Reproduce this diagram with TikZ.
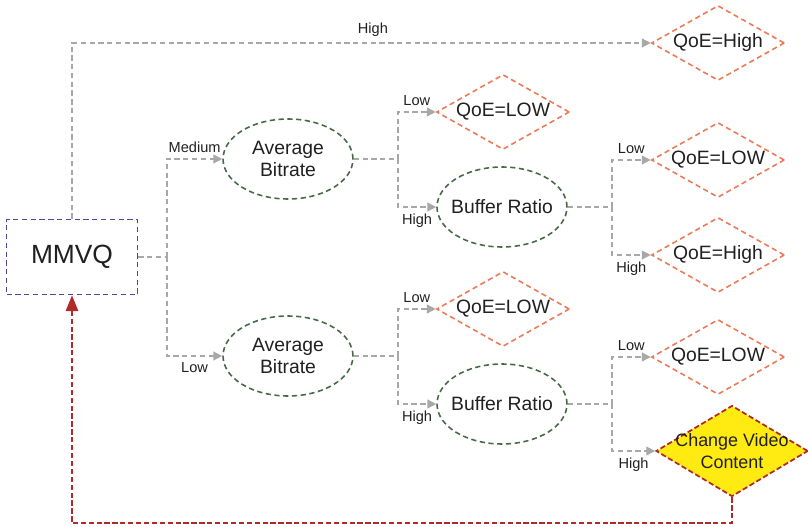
\documentclass[tikz,border=0pt]{standalone}
\usepackage{fontspec}
\setmainfont{Liberation Sans}
\usetikzlibrary{shapes.geometric,arrows.meta}
\definecolor{linegrey}{HTML}{A8A8A8}
\definecolor{ovalgreen}{HTML}{466A46}
\definecolor{qoeorange}{HTML}{EC7A57}
\definecolor{boxpurple}{HTML}{55449A}
\definecolor{backred}{HTML}{B02A2A}
\definecolor{warnyellow}{HTML}{FFEA12}
\definecolor{textgrey}{HTML}{202020}
\begin{document}
\begin{tikzpicture}[x=0.02cm, y=-0.02cm, text=textgrey,
    flow/.style={draw=linegrey, line width=0.75pt, dash pattern=on 3pt off 2pt},
    flowarrow/.style={flow, -{Triangle[length=5pt,width=5pt]}, arrows={[fill=linegrey]}},
    lbl/.style={font=\fontsize{8.3}{10}\selectfont},
    metric/.style={ellipse, draw=ovalgreen, line width=0.9pt, dash pattern=on 3pt off 2pt,
        minimum width=2.6cm, minimum height=1.6cm, inner xsep=-4pt, inner ysep=0pt, align=center,
        font=\fontsize{11}{13}\selectfont},
    qoe/.style={diamond, draw=qoeorange, line width=0.9pt, dash pattern=on 3pt off 2pt,
        aspect=1.8, minimum width=2.66cm, minimum height=1.5cm, inner sep=0pt,
        font=\fontsize{11}{13}\selectfont},
    feedback/.style={draw=backred, line width=1.1pt, dash pattern=on 3pt off 1.5pt,
        -{Triangle[length=9pt,width=7pt]}}]
    \useasboundingbox (0,0) rectangle (808,527);

    % Start box
    \node[draw=boxpurple, line width=0.9pt, dash pattern=on 3pt off 2pt,
        minimum width=2.62cm, minimum height=1.5cm, font=\fontsize{15}{17}\selectfont]
        (mmvq) at (72,257) {MMVQ};

    % Metric ovals
    \node[metric] (abmed) at (288,159) {Average\\Bitrate};
    \node[metric] (ablow) at (288,356) {Average\\Bitrate};
    \node[metric] (brmed) at (502,207) {Buffer Ratio};
    \node[metric] (brlow) at (502,404) {Buffer Ratio};

    % QoE decisions
    \node[qoe] (qtop) at (718,43) {QoE=High};
    \node[qoe] (qmedl) at (503,112) {QoE=LOW};
    \node[qoe] (qbrml) at (718,160) {QoE=LOW};
    \node[qoe] (qbrmh) at (718,255) {QoE=High};
    \node[qoe] (qlowl) at (503,309) {QoE=LOW};
    \node[qoe] (qbrll) at (718,357) {QoE=LOW};
    \node[diamond, draw=backred, fill=warnyellow, line width=1pt, dash pattern=on 3pt off 1.5pt,
        aspect=2, minimum width=3.04cm, minimum height=1.82cm, inner xsep=-8pt, inner ysep=-4pt,
        align=center, font=\fontsize{10.2}{12.5}\selectfont] (cvc) at (732,451) {Change Video\\Content};

    % Branch points
    \coordinate (bmmvq) at (167,257);
    \coordinate (bmed) at (398,159);
    \coordinate (blow) at (398,356);
    \coordinate (bbrm) at (612,207);
    \coordinate (bbrl) at (612,404);

    % Connectors
    \draw[flowarrow] (mmvq.north) |- (qtop.west) node[lbl, pos=0.76, above] {High};
    \draw[flow] (mmvq.east) -- (bmmvq);
    \draw[flowarrow] (bmmvq) |- (abmed.west) node[lbl, pos=0.75, above] {Medium};
    \draw[flowarrow] (bmmvq) |- (ablow.west) node[lbl, pos=0.75, below] {Low};

    \draw[flow] (abmed.east) -- (bmed);
    \draw[flowarrow] (bmed) |- (qmedl.west) node[lbl, pos=0.75, above] {Low};
    \draw[flowarrow] (bmed) |- (brmed.west) node[lbl, pos=0.75, below] {High};
    \draw[flow] (brmed.east) -- (bbrm);
    \draw[flowarrow] (bbrm) |- (qbrml.west) node[lbl, pos=0.75, above] {Low};
    \draw[flowarrow] (bbrm) |- (qbrmh.west) node[lbl, pos=0.75, below] {High};

    \draw[flow] (ablow.east) -- (blow);
    \draw[flowarrow] (blow) |- (qlowl.west) node[lbl, pos=0.75, above] {Low};
    \draw[flowarrow] (blow) |- (brlow.west) node[lbl, pos=0.75, below] {High};
    \draw[flow] (brlow.east) -- (bbrl);
    \draw[flowarrow] (bbrl) |- (qbrll.west) node[lbl, pos=0.75, above] {Low};
    \draw[flowarrow] (bbrl) |- (cvc.west) node[lbl, pos=0.75, below] {High};

    % Feedback to MMVQ
    \draw[feedback] (cvc.south) -- ++(0,26) -| (mmvq.south);
\end{tikzpicture}
\end{document}
